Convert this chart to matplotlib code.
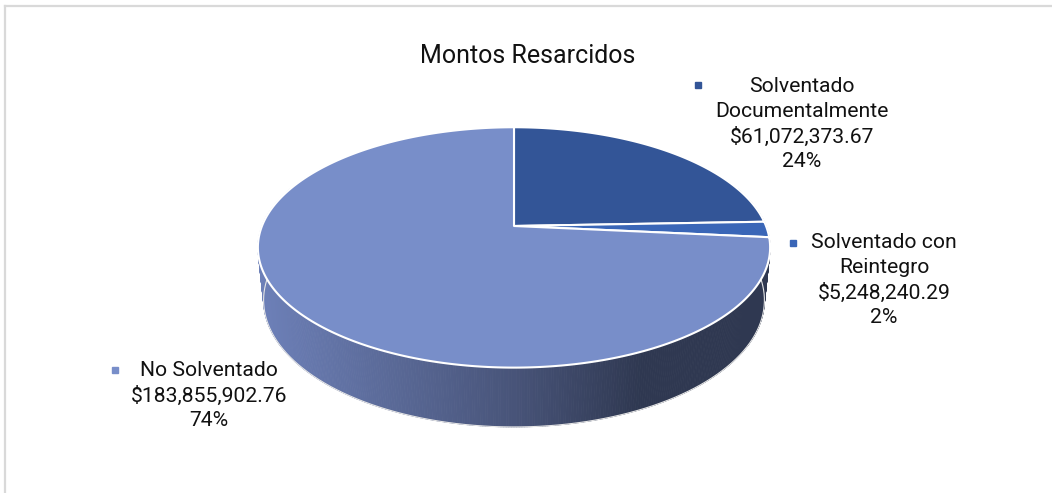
import numpy as np
import matplotlib
matplotlib.use("Agg")
import matplotlib.pyplot as plt
from matplotlib.collections import PolyCollection
from matplotlib.colors import LinearSegmentedColormap
from matplotlib.lines import Line2D

# ---------------- data ----------------
title = "Montos Resarcidos"
categories = ["Solventado Documentalmente", "Solventado con Reintegro", "No Solventado"]
amounts = [61072373.67, 5248240.29, 183855902.76]
label_names = [["Solventado", "Documentalmente"], ["Solventado con", "Reintegro"], ["No Solventado"]]
colors = ["#335597", "#3a66b7", "#788ec9"]

# ---------------- layout ----------------
W, H = 1052, 493
plt.rcParams['font.family'] = ['Roboto', 'DejaVu Sans']
fig = plt.figure(figsize=(W / 100, H / 100), dpi=100)
ax = fig.add_axes([0, 0, 1, 1])
ax.axis('off')

phi = np.radians(27.5)
s, c = np.sin(phi), np.cos(phi)
D, h, S = 4.976, 0.238, 1254.0
cx_px, cy_px = 514, 226
ax.set_xlim(-cx_px / S, (W - cx_px) / S)
ax.set_ylim(-(H - cy_px) / S, cy_px / S)


def proj(x, y, z):
    depth = D + y * c - z * s
    return x / depth, (y * s + z * c) / depth


def rim(a_deg, z):
    a = np.radians(a_deg)
    return proj(np.sin(a), np.cos(a), z)


def px2d(x, y):
    return (x - cx_px) / S, (cy_px - y) / S


vals = np.array(amounts)
frac = vals / vals.sum()
bounds = np.concatenate([[0], np.cumsum(frac) * 360])

# percentages rounded so they sum to 100 (largest remainder, as the spreadsheet does)
raw = frac * 100
pct = np.floor(raw).astype(int)
for j in np.argsort(-(raw - pct))[: 100 - pct.sum()]:
    pct[j] += 1

# ---------------- side face ----------------
side_cmap = LinearSegmentedColormap.from_list(
    "side", [(0, "#6d80b8"), (0.5, "#485479"), (0.75, "#2f3851"), (1, "#2f3851")])
aa = np.linspace(70, 290, 441)
polys, depths, us = [], [], []
for a0, a1 in zip(aa[:-1], aa[1:]):
    t0, t1 = rim(a0, 0), rim(a1, 0)
    b0, b1 = rim(a1, -h), rim(a0, -h)
    polys.append([t0, t1, b0, b1])
    am = np.radians((a0 + a1) / 2)
    depths.append(np.cos(am))
    sx = (t0[0] + t1[0]) / 2 * S + cx_px
    us.append(np.clip((sx - 258) / (770 - 258), 0, 1))
order = np.argsort(depths)[::-1]
polys = [polys[i] for i in order]
cols = [side_cmap(us[i]) for i in order]
ax.add_collection(PolyCollection(polys, facecolors=cols, edgecolors=cols, linewidths=0.6, zorder=1))

# faint outline on bottom rim
ab = np.linspace(90, 270, 200)
bx, by = zip(*[rim(a, -h) for a in ab])
ax.plot(bx, by, color="#e6e6e6", lw=0.8, zorder=1.5)

# ---------------- top face ----------------
wedges = []
for i in range(len(vals)):
    arc = np.linspace(bounds[i], bounds[i + 1], max(3, int((bounds[i + 1] - bounds[i]) * 2)))
    pts = [proj(0, 0, 0)] + [rim(a, 0) for a in arc]
    wedges.append(pts)
ax.add_collection(PolyCollection(wedges, facecolors=colors, edgecolors="white", linewidths=1.5,
                                 joinstyle="round", zorder=2))

# ---------------- texts ----------------
ax.text(*px2d(528, 56), title, ha="center", va="center", fontsize=18, color="#111111")

label_pos = [(802, 87), (884, 243), (209, 371)]
marker_pos = [(698, 85), (793, 243), (115, 370)]
line_step = 25
for i in range(len(vals)):
    lines = label_names[i] + [f"${vals[i]:,.2f}", f"{pct[i]}%"]
    x0, y0 = label_pos[i]
    for k, ln in enumerate(lines):
        ax.text(*px2d(x0, y0 + k * line_step), ln, ha="center", va="center",
                fontsize=15.2, color="#111111")
    mx, my = px2d(*marker_pos[i])
    ax.plot([mx], [my], marker="s", markersize=4.3, color=colors[i], lw=0)

# chart border (only top and left visible)
fig.add_artist(Line2D([5 / W, 1], [1 - 6 / H, 1 - 6 / H], color="#d9d9d9", lw=1.6))
fig.add_artist(Line2D([5 / W, 5 / W], [0, 1 - 6 / H], color="#d9d9d9", lw=1.6))

fig.savefig("out.png", dpi=100, facecolor="white")
